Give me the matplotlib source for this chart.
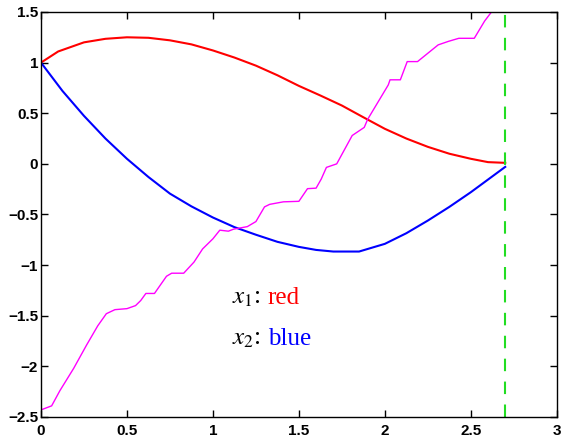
import matplotlib
matplotlib.use("Agg")
import matplotlib.pyplot as plt

# x1 (red)
t_red = [0.0, 0.1, 0.25, 0.375, 0.5, 0.625, 0.75, 0.875, 1.0, 1.125, 1.25, 1.375, 1.5,
         1.625, 1.75, 1.875, 2.0, 2.125, 2.25, 2.375, 2.5, 2.6, 2.7]
x1 = [1.0, 1.11, 1.20, 1.235, 1.25, 1.245, 1.22, 1.18, 1.12, 1.05, 0.97, 0.875, 0.77,
      0.675, 0.576, 0.46, 0.346, 0.25, 0.168, 0.10, 0.05, 0.017, 0.01]

# x2 (blue)
t_blue = [0.0, 0.125, 0.25, 0.375, 0.5, 0.625, 0.75, 0.875, 1.0, 1.125, 1.25, 1.375, 1.5,
          1.6, 1.7, 1.85, 2.0, 2.125, 2.25, 2.375, 2.5, 2.6, 2.7]
x2 = [1.0, 0.72, 0.474, 0.25, 0.05, -0.13, -0.294, -0.42, -0.53, -0.625, -0.70, -0.77, -0.82,
      -0.85, -0.866, -0.866, -0.79, -0.685, -0.56, -0.425, -0.28, -0.155, -0.03]

# costate (magenta)
t_mag = [0.0, 0.062, 0.11, 0.19, 0.265, 0.33, 0.38, 0.43, 0.50, 0.55, 0.58, 0.61, 0.66,
         0.73, 0.76, 0.83, 0.89, 0.94, 1.0, 1.04, 1.09, 1.12, 1.2, 1.25, 1.30, 1.33,
         1.41, 1.5, 1.55, 1.6, 1.63, 1.66, 1.72, 1.81, 1.88, 1.9, 2.02, 2.03, 2.09,
         2.13, 2.19, 2.31, 2.37, 2.43, 2.52, 2.58, 2.62, 2.7]
lam = [-2.43, -2.39, -2.24, -2.02, -1.79, -1.60, -1.48, -1.44, -1.43, -1.40, -1.35, -1.28, -1.28,
       -1.11, -1.08, -1.08, -0.97, -0.84, -0.74, -0.655, -0.665, -0.645, -0.62, -0.57, -0.425, -0.40,
       -0.375, -0.37, -0.245, -0.24, -0.15, -0.035, 0.0, 0.28, 0.36, 0.44, 0.78, 0.83, 0.83,
       1.01, 1.01, 1.175, 1.21, 1.24, 1.24, 1.41, 1.5, 1.5]

t_final = 2.7

xticks = [0, 0.5, 1, 1.5, 2, 2.5, 3]
xtick_labels = ['0', '0.5', '1', '1.5', '2', '2.5', '3']
yticks = [-2.5, -2, -1.5, -1, -0.5, 0, 0.5, 1, 1.5]
ytick_labels = ['\u22122.5', '\u22122', '\u22121.5', '\u22121', '\u22120.5', '0', '0.5', '1', '1.5']

plt.rcParams['mathtext.fontset'] = 'stix'

fig = plt.figure(figsize=(5.63, 4.42), dpi=100)
ax = fig.add_axes([0.0728, 0.0566, 0.9162, 0.9163])

ax.plot(t_red, x1, color='#ff0000', lw=1.5)
ax.plot(t_blue, x2, color='#0000ff', lw=1.5)
ax.plot(t_mag, lam, color='#ff00ff', lw=1.0)
ax.axvline(t_final, color='#22dd22', lw=1.5, ls=(0, (6, 5)))

ax.set_xlim(0, 3)
ax.set_ylim(-2.5, 1.5)
ax.set_xticks(xticks)
ax.set_xticklabels(xtick_labels)
ax.set_yticks(yticks)
ax.set_yticklabels(ytick_labels)
ax.tick_params(direction='in', top=True, right=True, length=5, width=1, labelsize=11)
ax.tick_params(axis='x', pad=5)
ax.tick_params(axis='y', pad=2)
for lab in ax.get_xticklabels() + ax.get_yticklabels():
    lab.set_fontfamily('Liberation Sans')
    lab.set_fontweight('bold')
for s in ax.spines.values():
    s.set_linewidth(1.0)

tf = dict(fontsize=18, family='Liberation Serif', va='center')
ax.text(1.11, -1.32, r'$x_1$:', color='black', **tf)
ax.text(1.32, -1.32, 'red', color='#ff0000', **tf)
ax.text(1.11, -1.73, r'$x_2$:', color='black', **tf)
ax.text(1.32, -1.73, 'blue', color='#0000ff', **tf)

fig.savefig('out.png', dpi=100)
